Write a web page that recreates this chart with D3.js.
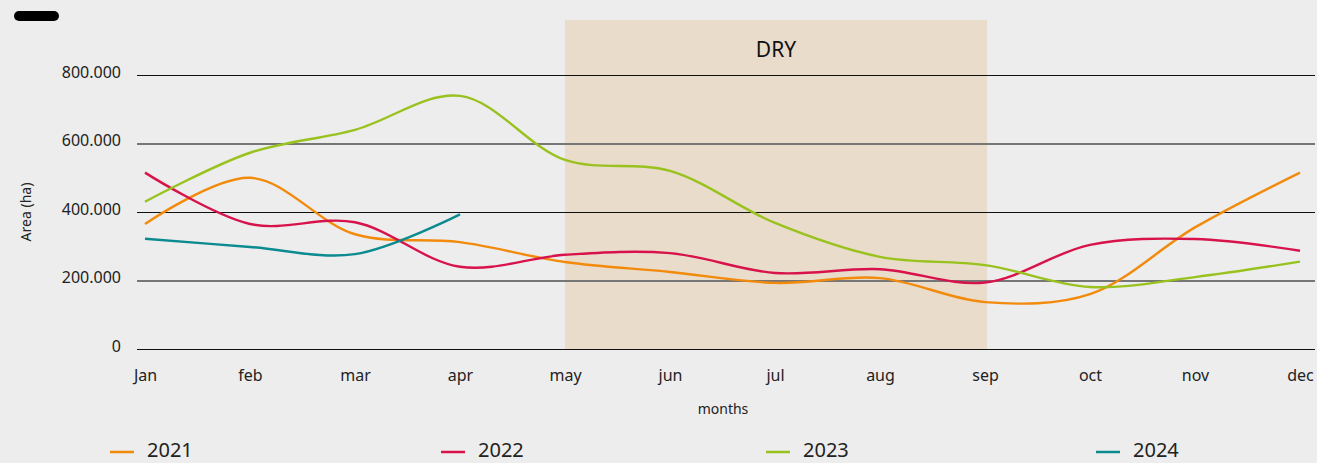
<!DOCTYPE html>
<html>
<head>
<meta charset="utf-8">
<script src="https://cdn.jsdelivr.net/npm/d3@7"></script>
<style>
  html, body { margin: 0; padding: 0; background: #ededed; }
  svg { display: block; font-family: "Noto Sans", "Open Sans", sans-serif; }
</style>
</head>
<body>
<svg id="chart" width="1317" height="463"></svg>
<script>
const months = ["Jan","feb","mar","apr","may","jun","jul","aug","sep","oct","nov","dec"];
const yTicks = [0, 200000, 400000, 600000, 800000];
const years = ["2021","2022","2023","2024"];
const colors = ["#f28a0c","#d8124b","#99c21e","#0b8a8f"];
const v2021 = [365000, 500000, 335000, 312000, 254000, 225000, 193000, 207000, 137000, 160000, 355000, 515000];
const v2022 = [515000, 365000, 370000, 240000, 275000, 280000, 222000, 233000, 194000, 304000, 321000, 287000];
const v2023 = [430000, 573000, 640000, 739000, 552000, 520000, 368000, 269000, 245000, 181000, 210000, 255000];
const v2024 = [322000, 298000, 277000, 393000];
const dryStart = "may", dryEnd = "sep";

const svg = d3.select("#chart");
const plotLeft = 137, plotRight = 1315, plotTop = 75, plotBottom = 349;

const x = d3.scalePoint().domain(months).range([145, 1300]);
const y = d3.scaleLinear().domain([0, 800000]).range([plotBottom, plotTop]);

// top-left pill
svg.append("rect").attr("x", 14).attr("y", 11).attr("width", 45).attr("height", 10)
  .attr("rx", 5).attr("fill", "#000");

// dry band
svg.append("rect").attr("x", x(dryStart)).attr("y", 20)
  .attr("width", x(dryEnd) - x(dryStart) + 2).attr("height", plotBottom - 20)
  .attr("fill", "#e9dcca");
svg.append("text").attr("x", (x(dryStart) + x(dryEnd)) / 2 + 1).attr("y", 57)
  .attr("text-anchor", "middle").attr("font-size", 21).attr("fill", "#111").text("DRY");

// gridlines
yTicks.forEach((t) => {
  const gray = (t === 200000 || t === 600000);
  svg.append("line").attr("x1", plotLeft).attr("x2", plotRight)
    .attr("y1", Math.round(y(t)) + (gray ? 0 : 0.5)).attr("y2", Math.round(y(t)) + (gray ? 0 : 0.5))
    .attr("stroke", gray ? "#767676" : "#111")
    .attr("stroke-width", gray ? 2 : 1);
});

// y axis labels
const fmt = v => v === 0 ? "0" : d3.format(",")(v).replace(/,/g, ".");
const yAxis = d3.axisLeft(y).tickValues(yTicks).tickFormat(fmt).tickSize(0).tickPadding(0);
const gy = svg.append("g").attr("transform", "translate(121,-3)").call(yAxis);
gy.select(".domain").remove();
gy.selectAll("text").attr("font-size", 16).attr("fill", "#222")
  .attr("font-family", "'Noto Sans', 'Open Sans', sans-serif");

// x axis labels
const xAxis = d3.axisBottom(x).tickSize(0).tickPadding(0);
const gx = svg.append("g").attr("transform", "translate(0,370)").call(xAxis);
gx.select(".domain").remove();
gx.selectAll("text").attr("font-size", 16).attr("fill", "#222")
  .attr("font-family", "'Noto Sans', 'Open Sans', sans-serif");

// axis titles
svg.append("text").attr("transform", "translate(31,212) rotate(-90)")
  .attr("text-anchor", "middle").attr("font-size", 14).attr("fill", "#222").text("Area (ha)");
svg.append("text").attr("x", 723).attr("y", 414).attr("text-anchor", "middle")
  .attr("font-size", 14).attr("fill", "#222").text("months");

// lines
const line = d3.line().x((d, i) => x(months[i])).y(d => y(d)).curve(d3.curveCatmullRom.alpha(0.5));
[v2021, v2022, v2023, v2024].forEach((vals, k) => {
  svg.append("path").attr("d", line(vals)).attr("fill", "none")
    .attr("stroke", colors[k]).attr("stroke-width", 2.4).attr("stroke-linejoin", "round");
});

// legend
const legendX = [110, 441, 766, 1096];
years.forEach((yr, k) => {
  svg.append("line").attr("x1", legendX[k]).attr("x2", legendX[k] + 24)
    .attr("y1", 452).attr("y2", 452).attr("stroke", colors[k]).attr("stroke-width", 2.5);
  svg.append("text").attr("x", legendX[k] + 37).attr("y", 457)
    .attr("font-size", 20).attr("fill", "#222").text(yr);
});
</script>
</body>
</html>
